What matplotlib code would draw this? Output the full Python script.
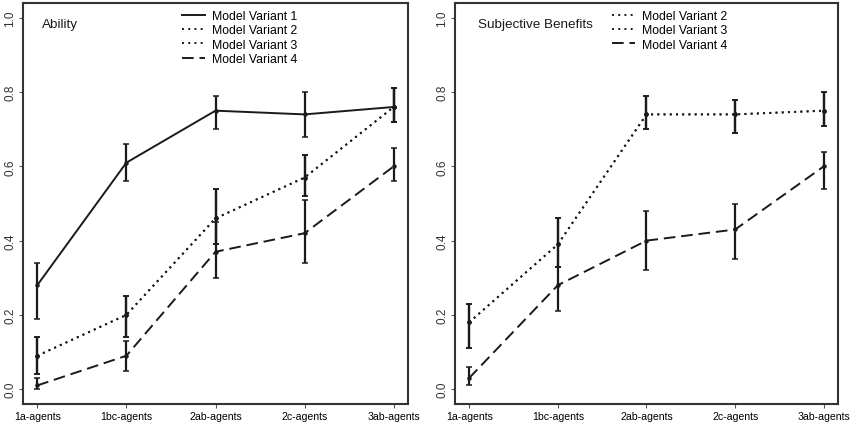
import numpy as np
import matplotlib.pyplot as plt
from matplotlib.lines import Line2D

categories = ["1a-agents", "1bc-agents", "2ab-agents", "2c-agents", "3ab-agents"]
y_ticks = [0.0, 0.2, 0.4, 0.6, 0.8, 1.0]

# Ability panel: mean, lower, upper
ability_v1 = [0.28, 0.61, 0.75, 0.74, 0.76]
ability_v1_lo = [0.19, 0.56, 0.70, 0.68, 0.72]
ability_v1_hi = [0.34, 0.66, 0.79, 0.80, 0.81]

ability_v2 = [0.09, 0.20, 0.46, 0.57, 0.76]
ability_v2_lo = [0.04, 0.14, 0.39, 0.52, 0.72]
ability_v2_hi = [0.14, 0.25, 0.54, 0.63, 0.81]

ability_v3 = [0.09, 0.20, 0.46, 0.57, 0.76]
ability_v3_lo = [0.04, 0.14, 0.39, 0.52, 0.72]
ability_v3_hi = [0.14, 0.25, 0.54, 0.63, 0.81]

ability_v4 = [0.01, 0.09, 0.37, 0.42, 0.60]
ability_v4_lo = [0.00, 0.05, 0.30, 0.34, 0.56]
ability_v4_hi = [0.03, 0.13, 0.45, 0.51, 0.65]

# Subjective benefits panel
subj_v2 = [0.18, 0.39, 0.74, 0.74, 0.75]
subj_v2_lo = [0.11, 0.33, 0.70, 0.69, 0.71]
subj_v2_hi = [0.23, 0.46, 0.79, 0.78, 0.80]

subj_v3 = [0.18, 0.39, 0.74, 0.74, 0.75]
subj_v3_lo = [0.11, 0.33, 0.70, 0.69, 0.71]
subj_v3_hi = [0.23, 0.46, 0.79, 0.78, 0.80]

subj_v4 = [0.03, 0.28, 0.40, 0.43, 0.60]
subj_v4_lo = [0.01, 0.21, 0.32, 0.35, 0.54]
subj_v4_hi = [0.06, 0.33, 0.48, 0.50, 0.64]

DOT = (0, (1, 2.2))
DASH = (0, (6, 3))
INK = "#1a1a1a"

plt.rcParams["font.family"] = ["Liberation Sans", "DejaVu Sans"]


def draw_series(ax, x, mean, lo, hi, ls):
    mean = np.array(mean)
    err = [mean - np.array(lo), np.array(hi) - mean]
    ax.errorbar(x, mean, yerr=err, fmt="none", ecolor=INK, elinewidth=1.6,
                capsize=2, capthick=1.1, zorder=3)
    ax.plot(x, mean, linestyle=ls, color=INK, linewidth=1.4, zorder=2)
    ax.plot(x, mean, "o", color=INK, markersize=2.2, zorder=4)


def style_axes(ax, title, title_x):
    ax.set_xlim(0.84, 5.16)
    ax.set_ylim(-0.04, 1.04)
    ax.set_xticks(np.arange(1, 6))
    ax.set_xticklabels(categories, fontsize=7.6)
    ax.set_yticks(y_ticks)
    ax.set_yticklabels([f"{v:.1f}" for v in y_ticks], fontsize=8.5,
                       rotation=90, va="center", color="#333333")
    ax.tick_params(axis="both", length=3, width=0.8, color="#555555",
                   pad=2)
    for s in ax.spines.values():
        s.set_linewidth(1.5)
        s.set_color("#333333")
    ax.text(title_x, 0.948, title, transform=ax.transAxes, fontsize=9.7,
            va="center", ha="left", color=INK)


fig = plt.figure(figsize=(8.53, 4.31), dpi=100)
ax1 = fig.add_axes([23 / 853, 26 / 431, 385 / 853, 401 / 431])
ax2 = fig.add_axes([455 / 853, 26 / 431, 383 / 853, 401 / 431])

x = np.arange(1, 6)

draw_series(ax1, x, ability_v1, ability_v1_lo, ability_v1_hi, "-")
draw_series(ax1, x, ability_v2, ability_v2_lo, ability_v2_hi, DOT)
draw_series(ax1, x, ability_v3, ability_v3_lo, ability_v3_hi, DOT)
draw_series(ax1, x, ability_v4, ability_v4_lo, ability_v4_hi, DASH)
style_axes(ax1, "Ability", 0.05)

draw_series(ax2, x, subj_v2, subj_v2_lo, subj_v2_hi, DOT)
draw_series(ax2, x, subj_v3, subj_v3_lo, subj_v3_hi, DOT)
draw_series(ax2, x, subj_v4, subj_v4_lo, subj_v4_hi, DASH)
style_axes(ax2, "Subjective Benefits", 0.06)

h1 = [Line2D([], [], color=INK, lw=1.4, ls="-"),
      Line2D([], [], color=INK, lw=1.4, ls=DOT),
      Line2D([], [], color=INK, lw=1.4, ls=DOT),
      Line2D([], [], color=INK, lw=1.4, ls=DASH)]
ax1.legend(h1, ["Model Variant 1", "Model Variant 2", "Model Variant 3",
                "Model Variant 4"],
           loc="upper left", bbox_to_anchor=(0.403, 0.992), frameon=False,
           fontsize=8.8, handlelength=1.9, handletextpad=0.55,
           labelspacing=0.19, borderpad=0.3, borderaxespad=0)

h2 = h1[1:]
ax2.legend(h2, ["Model Variant 2", "Model Variant 3", "Model Variant 4"],
           loc="upper left", bbox_to_anchor=(0.4, 0.992), frameon=False,
           fontsize=8.8, handlelength=1.9, handletextpad=0.55,
           labelspacing=0.19, borderpad=0.3, borderaxespad=0)

fig.savefig("out.png", dpi=100)
